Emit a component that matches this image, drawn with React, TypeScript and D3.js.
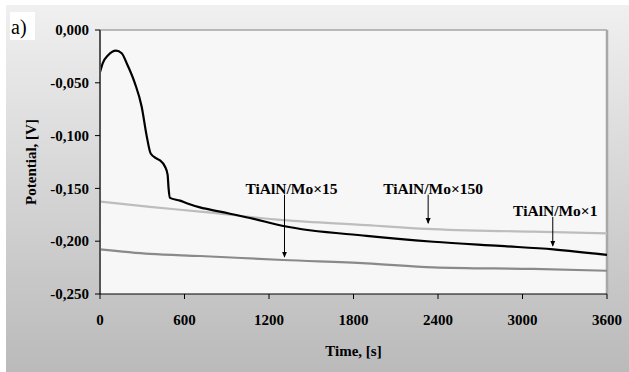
import React from "react";
import * as d3 from "d3";

const W = 629;
const H = 372;

const xTicks = [0, 600, 1200, 1800, 2400, 3000, 3600];
const yTicks = [0, -0.05, -0.1, -0.15, -0.2, -0.25];

// TiAlN/Mo×1 (black)
const s1T = [0, 19, 59, 114, 154, 190, 248, 296, 331, 360, 400, 426, 460, 480, 487, 497, 568, 616, 710, 852, 1065, 1302, 1893, 2367, 2840, 3219, 3600];
const s1V = [-0.04, -0.0316, -0.0237, -0.0196, -0.022, -0.0316, -0.0505, -0.0726, -0.1, -0.117, -0.1215, -0.1235, -0.129, -0.137, -0.15, -0.159, -0.1616, -0.164, -0.168, -0.172, -0.178, -0.1856, -0.195, -0.2005, -0.2045, -0.2077, -0.213];

// TiAlN/Mo×150 (light gray)
const s150T = [0, 355, 710, 1302, 1893, 2318, 3076, 3600];
const s150V = [-0.1625, -0.1675, -0.172, -0.18, -0.1847, -0.1884, -0.191, -0.1926];

// TiAlN/Mo×15 (dark gray)
const s15T = [0, 355, 710, 1302, 1893, 2367, 3076, 3600];
const s15V = [-0.2077, -0.212, -0.214, -0.2178, -0.221, -0.2247, -0.2263, -0.228];

const labels = ["TiAlN/Mo×15", "TiAlN/Mo×150", "TiAlN/Mo×1"];
const labelAnchorT = [1310, 2330, 3215];
const labelTextV = [-0.155, -0.155, -0.176];
const arrowEndV = [-0.2147, -0.1828, -0.2043];

export default function App() {
  const left = 100, right = 607, top = 30, bottom = 294;
  const x = d3.scaleLinear().domain([0, 3600]).range([left, right]);
  const y = d3.scaleLinear().domain([-0.25, 0]).range([bottom, top]);
  const line = d3
    .line<[number, number]>()
    .x((d) => x(d[0]))
    .y((d) => y(d[1]))
    .curve(d3.curveMonotoneX);
  const zip = (a: number[], b: number[]) => a.map((t, i) => [t, b[i]] as [number, number]);
  const font = "'Liberation Serif', 'Times New Roman', Times, serif";
  const labelShift = [7, 5, 2.5];

  return (
    <svg width={W} height={H} style={{ position: "absolute", left: 0, top: 0, fontFamily: font }}>
      <defs>
        <linearGradient id="bg" x1="0" y1="0" x2="0" y2="1">
          <stop offset="0" stopColor="#f0f0f0" />
          <stop offset="1" stopColor="#bababa" />
        </linearGradient>
        <marker id="ah" viewBox="0 0 6 6" refX="5" refY="3" markerWidth="6" markerHeight="6" orient="auto">
          <path d="M0,0.5 L6,3 L0,5.5 Z" fill="#000" />
        </marker>
      </defs>
      <rect x={0} y={0} width={W} height={H} fill="#fff" />
      <rect x={6} y={5} width={W - 6} height={H - 5} fill="url(#bg)" />
      <rect x={10} y={12} width={25} height={28} fill="#fff" />
      <text x={11} y={34} fontSize={20} fill="#000">a)</text>

      <rect x={left} y={top} width={right - left} height={bottom - top} fill="#f7f7f7" />
      <line x1={left} x2={right} y1={top} y2={top} stroke="#808080" strokeWidth={1.2} />
      <line x1={right} x2={right} y1={top} y2={bottom} stroke="#a8a8a8" strokeWidth={2.5} />

      {/* series */}
      <path d={line(zip(s150T, s150V)) || ""} fill="none" stroke="#bdbdbd" strokeWidth={2.2} />
      <path d={line(zip(s15T, s15V)) || ""} fill="none" stroke="#8a8a8a" strokeWidth={2.2} />
      <path d={line(zip(s1T, s1V)) || ""} fill="none" stroke="#000" strokeWidth={2.2} />

      {/* axes */}
      <line x1={left} x2={left} y1={top} y2={bottom} stroke="#555" strokeWidth={2} />
      <line x1={left} x2={right} y1={bottom} y2={bottom} stroke="#000" strokeWidth={1} />
      {yTicks.map((v) => (
        <g key={v}>
          <line x1={left - 5} x2={left} y1={y(v)} y2={y(v)} stroke="#000" />
          <text x={left - 11} y={y(v)} dy="0.35em" textAnchor="end" fontSize={15} fontWeight="bold">
            {d3.format(".3f")(v).replace("−", "-").replace(".", ",")}
          </text>
        </g>
      ))}
      {xTicks.map((t) => (
        <g key={t}>
          <line x1={x(t)} x2={x(t)} y1={bottom} y2={bottom + 5} stroke="#000" />
          <text x={x(t)} y={325} textAnchor="middle" fontSize={15} fontWeight="bold">
            {t}
          </text>
        </g>
      ))}
      <text x={(left + right) / 2} y={356} textAnchor="middle" fontSize={15} fontWeight="bold">
        Time, [s]
      </text>
      <text transform="translate(36,162) rotate(-90)" textAnchor="middle" fontSize={15} fontWeight="bold">
        Potential, [V]
      </text>

      {/* annotations */}
      {labels.map((l, i) => (
        <g key={l}>
          <text x={x(labelAnchorT[i]) + labelShift[i]} y={y(labelTextV[i])} textAnchor="middle" fontSize={15.5} fontWeight="bold">
            {l}
          </text>
          <line
            x1={x(labelAnchorT[i])}
            x2={x(labelAnchorT[i])}
            y1={y(labelTextV[i]) + 1}
            y2={y(arrowEndV[i])}
            stroke="#000"
            strokeWidth={1}
            markerEnd="url(#ah)"
          />
        </g>
      ))}
    </svg>
  );
}
